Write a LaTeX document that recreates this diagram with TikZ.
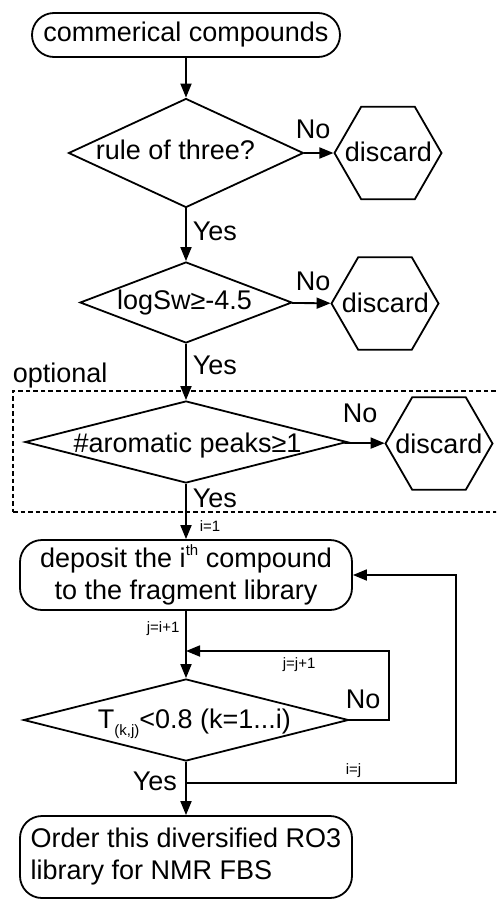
\documentclass[tikz,border=0pt]{standalone}
\usepackage{fontspec}
\setmainfont{Liberation Sans}
\usetikzlibrary{shapes.geometric,arrows.meta}
\begin{document}
\begin{tikzpicture}[x=1pt,y=-1pt,line width=1.8pt,
  txt/.style={font=\fontsize{27}{32}\selectfont, inner sep=0pt},
  small/.style={font=\fontsize{15}{15}\selectfont, inner sep=0pt, anchor=base west},
  lbl/.style={txt, anchor=base west},
  term/.style={draw, rounded corners=22pt, txt},
  dec/.style={draw, diamond, inner sep=0pt},
  hex/.style={draw, regular polygon, regular polygon sides=6, minimum size=107pt, inner sep=0pt},
  arr/.style={-{Triangle[length=14pt,width=11pt]}},
  optbox/.style={draw, dash pattern=on 4.5pt off 3pt, line width=1.6pt, inner sep=0pt}
]
\path[use as bounding box, clip] (0,0) rectangle (496,900);

% optional dashed frame
\node[optbox, minimum width=507pt, minimum height=121pt] (opt) at (266.5,451.5) {};
\node[lbl] (optt) at (12,382) {optional};

% boxes
\node[term, minimum width=308pt, minimum height=44pt] (top) at (186,35) {commerical compounds};

\node[dec, minimum width=235pt, minimum height=109pt] (d1) at (186,153) {};
\node[lbl] (d1t) at (95,159) {rule of three?};
\node[hex] (h1) at (388,153) {};
\node[txt, anchor=base] (h1t) at (388.5,161) {discard};

\node[dec, minimum width=212pt, minimum height=81pt] (d2) at (186,302.5) {};
\node[txt, anchor=base] (d2t) at (184.5,309) {logSw≥-4.5};
\node[hex] (h2) at (385,303.5) {};
\node[txt, anchor=base] (h2t) at (385.5,312) {discard};

\node[dec, minimum width=322pt, minimum height=82pt] (d3) at (186,442) {};
\node[txt, anchor=base] (d3t) at (187.5,452) {\#aromatic peaks≥1};
\node[hex] (h3) at (439,443.5) {};
\node[txt, anchor=base] (h3t) at (439,453) {discard};

\node[term, align=center, minimum width=332pt, minimum height=70pt] (dep) at (186,575)
  {deposit the i\raisebox{12pt}{\fontsize{15}{15}\selectfont th} compound\\to the fragment library};

\node[dec, minimum width=325pt, minimum height=82pt] (d4) at (186,720) {};
\node[lbl] (d4t) at (97,728) {T\raisebox{-7pt}{\fontsize{15}{15}\selectfont (k,j)}<0.8 (k=1...i)};

\node[term, align=left, minimum width=332pt, minimum height=82pt] (fin) at (186,857)
  {Order this diversified RO3\\library for NMR FBS};

% labels
\node[lbl] (no1) at (295,138) {No};
\node[lbl] (yes1) at (192,240) {Yes};
\node[lbl] (no2) at (295,290) {No};
\node[lbl] (yes2) at (192,374) {Yes};
\node[lbl] (no3) at (342,422) {No};
\node[lbl] (yes3) at (192,507) {Yes};
\node[small] (i1) at (199,531) {i=1};
\node[small] (jii) at (146,632) {j=i+1};
\node[small] (jjj) at (282,668) {j=j+1};
\node[lbl] (no4) at (345,708) {No};
\node[lbl] (yes4) at (132,790) {Yes};
\node[small] (ij) at (345,774) {i=j};

% connectors
\draw[arr] (top) -- (d1);
\draw[arr] (d1) -- (h1);
\draw[arr] (d1) -- (d2);
\draw[arr] (d2) -- (h2);
\draw[arr] (d2) -- (d3);
\draw[arr] (d3) -- (h3);
\draw[arr] (d3) -- (dep);
\draw[arr] (dep) -- (d4);
\coordinate (c1) at (389,651);
\draw[arr] (d4.east) -| (c1) -- (c1 -| d4.north);
\draw[arr] (d4) -- (fin);
\coordinate (j1) at (186,783);
\coordinate (c2) at (456,783);
\draw[arr] (j1) -- (c2) |- (dep.east);
\end{tikzpicture}
\end{document}
